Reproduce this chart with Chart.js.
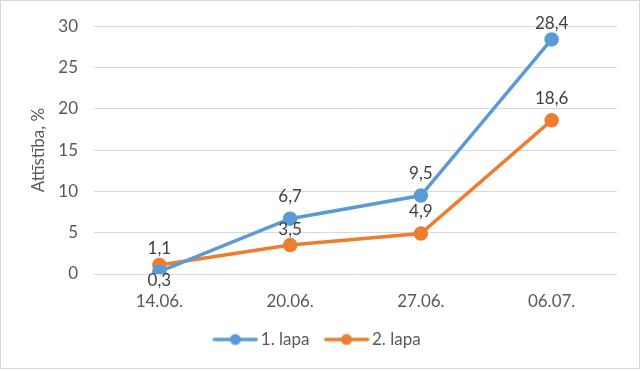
<!DOCTYPE html>
<html><head><meta charset="utf-8">
<script src="https://cdn.jsdelivr.net/npm/chart.js@4/dist/chart.umd.min.js"></script>
<style>html,body{margin:0;padding:0;background:#fff;}</style>
</head><body>
<canvas id="c" width="641" height="371"></canvas>
<script>
const categories = ['14.06.', '20.06.', '27.06.', '06.07.'];
const series1Name = '1. lapa';
const series1 = [0.3, 6.7, 9.5, 28.4];
const series2Name = '2. lapa';
const series2 = [1.1, 3.5, 4.9, 18.6];
const series1LabelSide = ['below', 'above', 'above', 'near'];
const series2LabelSide = ['near', 'near', 'above', 'above'];
const yTitle = 'Attīstība, %';
const yMin = 0, yMax = 30, yStep = 5;

const BLUE = '#5B9BD5', ORANGE = '#ED7D31';
const FONT = 'Lato';
const FS = 17;
const SIDE_OFFSET = { below: 9, above: -22, near: -16 };

function legendIcon(color) {
  const c = document.createElement('canvas');
  c.width = 46; c.height = 14;
  const x = c.getContext('2d');
  x.strokeStyle = color; x.lineWidth = 3.5; x.lineCap = 'round';
  x.beginPath(); x.moveTo(2, 7); x.lineTo(44, 7); x.stroke();
  x.fillStyle = color; x.beginPath(); x.arc(23, 7, 5.5, 0, Math.PI * 2); x.fill();
  return c;
}
const icons = [legendIcon(BLUE), legendIcon(ORANGE)];

const frame = {
  id: 'frame',
  beforeDraw(chart) {
    const ctx = chart.ctx;
    ctx.save(); ctx.fillStyle = '#fff'; ctx.fillRect(0, 0, chart.width, chart.height); ctx.restore();
  },
  afterDraw(chart) {
    const ctx = chart.ctx;
    ctx.save(); ctx.strokeStyle = '#d9d9d9'; ctx.lineWidth = 1;
    ctx.strokeRect(0.5, 0.5, chart.width - 2, chart.height - 3);
    ctx.restore();
  }
};

const dataLabels = {
  id: 'dataLabels',
  afterDatasetsDraw(chart) {
    const ctx = chart.ctx;
    const sides = [series1LabelSide, series2LabelSide];
    ctx.save();
    ctx.font = FS + 'px ' + FONT;
    ctx.fillStyle = '#404040';
    ctx.textAlign = 'center';
    ctx.textBaseline = 'middle';
    chart.data.datasets.forEach((ds, i) => {
      const meta = chart.getDatasetMeta(i);
      meta.data.forEach((pt, j) => {
        const txt = ds.data[j].toFixed(1).replace('.', ',');
        ctx.fillText(txt, pt.x, pt.y + SIDE_OFFSET[sides[i][j]]);
      });
    });
    ctx.restore();
  }
};

new Chart(document.getElementById('c'), {
  type: 'line',
  data: {
    labels: categories,
    datasets: [
      { label: series1Name, data: series1, borderColor: BLUE, backgroundColor: BLUE, borderWidth: 3.5,
        pointRadius: 5.5, pointHoverRadius: 5.5, pointBackgroundColor: BLUE, pointBorderColor: BLUE, tension: 0 },
      { label: series2Name, data: series2, borderColor: ORANGE, backgroundColor: ORANGE, borderWidth: 3.5,
        pointRadius: 5.5, pointHoverRadius: 5.5, pointBackgroundColor: ORANGE, pointBorderColor: ORANGE, tension: 0 }
    ]
  },
  options: {
    responsive: false,
    animation: false,
    events: [],
    layout: { padding: { left: 22, right: 24, top: 21, bottom: 13 } },
    plugins: {
      tooltip: { enabled: false },
      legend: {
        position: 'bottom',
        labels: {
          font: { family: FONT, size: FS },
          color: '#595959',
          usePointStyle: true,
          pointStyleWidth: 34,
          padding: 20,
          generateLabels(chart) {
            return chart.data.datasets.map((ds, i) => ({
              text: ds.label, pointStyle: icons[i], fillStyle: ds.borderColor,
              strokeStyle: ds.borderColor, lineWidth: 0, hidden: false, datasetIndex: i, fontColor: '#595959'
            }));
          }
        }
      }
    },
    scales: {
      x: {
        offset: true,
        grid: { display: false, drawTicks: false },
        border: { display: false },
        ticks: { font: { family: FONT, size: FS }, color: '#595959', padding: 17 },
        afterFit(s) { s.height = 37; }
      },
      y: {
        min: yMin, max: yMax,
        grid: { color: '#d9d9d9', drawTicks: false, lineWidth: 1 },
        border: { display: false },
        ticks: { stepSize: yStep, font: { family: FONT, size: FS }, color: '#595959', padding: 16 },
        title: { display: true, text: yTitle, font: { family: FONT, size: FS }, color: '#595959', padding: { top: 6, bottom: 0 } },
        afterFit(s) { s.width = 72; }
      }
    }
  },
  plugins: [frame, dataLabels]
});
</script>
</body></html>
